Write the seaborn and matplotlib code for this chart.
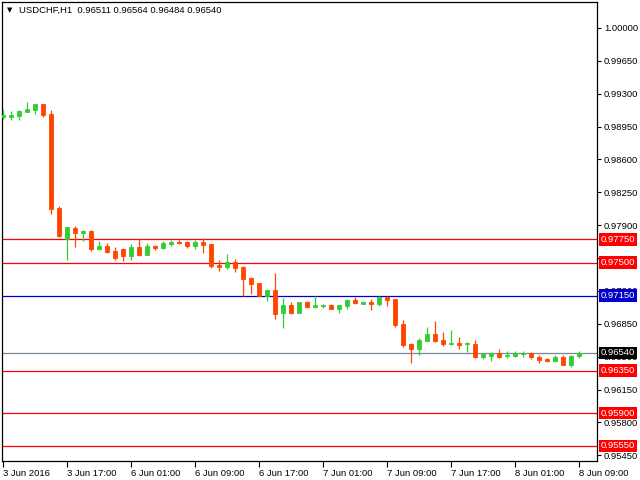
import matplotlib
matplotlib.use("Agg")
import matplotlib.pyplot as plt
import matplotlib.transforms as mtransforms
import seaborn as sns
import numpy as np
import pandas as pd

# ---- data (USDCHF H1, 3 Jun 2016 09:00 -> 8 Jun 2016 09:00) ----
open_ = [0.99054, 0.99054, 0.99065, 0.99108, 0.99129, 0.99190, 0.99083, 0.98083,
         0.97753, 0.97870, 0.97820, 0.97838, 0.97650, 0.97679, 0.97626, 0.97647,
         0.97576, 0.97668, 0.97586, 0.97679, 0.97661, 0.97703, 0.97721, 0.97721,
         0.97682, 0.97721, 0.97700, 0.97477, 0.97458, 0.97508, 0.97455, 0.97338,
         0.97285, 0.97147, 0.97211, 0.96966, 0.97051, 0.96966, 0.97083, 0.97033,
         0.97040, 0.97051, 0.97012, 0.97043, 0.97104, 0.97065, 0.97083, 0.97062,
         0.97136, 0.97115, 0.96849, 0.96636, 0.96583, 0.96668, 0.96742, 0.96679,
         0.96636, 0.96647, 0.96636, 0.96636, 0.96498, 0.96508, 0.96540, 0.96508,
         0.96508, 0.96530, 0.96540, 0.96498, 0.96476, 0.96455, 0.96498, 0.96413,
         0.96511]
high = [0.99136, 0.99115, 0.99126, 0.99211, 0.99190, 0.99190, 0.99126, 0.98104,
        0.97881, 0.97892, 0.97849, 0.97845, 0.97732, 0.97707, 0.97668, 0.97657,
        0.97700, 0.97753, 0.97711, 0.97689, 0.97732, 0.97743, 0.97743, 0.97732,
        0.97743, 0.97764, 0.97700, 0.97530, 0.97594, 0.97540, 0.97466, 0.97349,
        0.97285, 0.97211, 0.97391, 0.97125, 0.97083, 0.97083, 0.97094, 0.97147,
        0.97062, 0.97062, 0.97051, 0.97115, 0.97136, 0.97094, 0.97115, 0.97147,
        0.97147, 0.97115, 0.96891, 0.96647, 0.96700, 0.96817, 0.96881, 0.96764,
        0.96785, 0.96710, 0.96657, 0.96679, 0.96530, 0.96551, 0.96583, 0.96562,
        0.96562, 0.96562, 0.96551, 0.96519, 0.96487, 0.96519, 0.96519, 0.96519,
        0.96564]
low = [0.99030, 0.99019, 0.99019, 0.99108, 0.99083, 0.99054, 0.98019, 0.97774,
       0.97530, 0.97671, 0.97735, 0.97629, 0.97639, 0.97604, 0.97533, 0.97522,
       0.97533, 0.97576, 0.97583, 0.97639, 0.97650, 0.97682, 0.97703, 0.97661,
       0.97650, 0.97599, 0.97448, 0.97416, 0.97437, 0.97405, 0.97147, 0.97171,
       0.97145, 0.97097, 0.96905, 0.96809, 0.96955, 0.96966, 0.97019, 0.97019,
       0.97019, 0.97012, 0.96966, 0.97012, 0.97062, 0.97062, 0.96998, 0.97040,
       0.97040, 0.96817, 0.96607, 0.96434, 0.96519, 0.96668, 0.96657, 0.96615,
       0.96625, 0.96583, 0.96551, 0.96487, 0.96476, 0.96455, 0.96487, 0.96487,
       0.96498, 0.96498, 0.96476, 0.96434, 0.96444, 0.96444, 0.96413, 0.96391,
       0.96484]
close = [0.99076, 0.99073, 0.99115, 0.99136, 0.99190, 0.99076, 0.98076, 0.97788,
         0.97881, 0.97820, 0.97838, 0.97647, 0.97679, 0.97615, 0.97554, 0.97576,
         0.97668, 0.97586, 0.97679, 0.97661, 0.97711, 0.97721, 0.97714, 0.97682,
         0.97721, 0.97693, 0.97469, 0.97458, 0.97508, 0.97448, 0.97331, 0.97278,
         0.97147, 0.97211, 0.96958, 0.97051, 0.96966, 0.97083, 0.97030, 0.97051,
         0.97051, 0.97012, 0.97051, 0.97104, 0.97072, 0.97083, 0.97062, 0.97136,
         0.97109, 0.96838, 0.96625, 0.96583, 0.96679, 0.96742, 0.96668, 0.96636,
         0.96647, 0.96625, 0.96647, 0.96498, 0.96530, 0.96540, 0.96498, 0.96519,
         0.96540, 0.96540, 0.96498, 0.96466, 0.96455, 0.96498, 0.96413, 0.96508,
         0.96540]

x_tick_bars = [0, 8, 16, 24, 32, 40, 48, 56, 64, 72]
x_tick_labels = ["3 Jun 2016", "3 Jun 17:00", "6 Jun 01:00", "6 Jun 09:00",
                 "6 Jun 17:00", "7 Jun 01:00", "7 Jun 09:00", "7 Jun 17:00",
                 "8 Jun 01:00", "8 Jun 09:00"]
price_ticks = [1.00000, 0.99650, 0.99300, 0.98950, 0.98600, 0.98250, 0.97900,
               0.97550, 0.97200, 0.96850, 0.96500, 0.96150, 0.95800, 0.95450]
red_levels = [0.97750, 0.97500, 0.96350, 0.95900, 0.95550]
blue_levels = [0.97150]
bid_level = 0.96540
title_text = "USDCHF,H1  0.96511 0.96564 0.96484 0.96540"

# ---- style ----
sns.set_theme(style="white")
plt.rcParams['font.family'] = ['Liberation Sans', 'DejaVu Sans']

UP = '#32CD32'
DOWN = '#FF4500'
RED = '#FF0000'
BLUE = '#0000CD'
GRAY = '#778899'
FS = 6.8

fig = plt.figure(figsize=(6.4, 4.8), dpi=100)
fig.patch.set_facecolor('white')
ax = fig.add_axes([2 / 640, 19 / 480, 595 / 640, 459 / 480])
ax.set_facecolor('white')

df = pd.DataFrame({'o': open_, 'h': high, 'l': low, 'c': close})
df['bar'] = np.arange(len(df))
df['dir'] = np.where(df['c'] >= df['o'], 'up', 'down')
df['bottom'] = np.minimum(df['o'], df['c'])
df['height'] = (df['c'] - df['o']).abs()
colors = np.where(df['dir'] == 'up', UP, DOWN)

# level lines
for lv in red_levels:
    ax.axhline(lv, color=RED, lw=0.9, zorder=1)
for lv in blue_levels:
    ax.axhline(lv, color=BLUE, lw=0.9, zorder=1)
ax.axhline(bid_level, color=GRAY, lw=0.9, zorder=1)

# candles
ax.vlines(df['bar'], df['l'], df['h'], colors=colors, lw=0.9, zorder=3)
ax.bar(df['bar'], df['height'], bottom=df['bottom'], width=0.58,
       color=colors, edgecolor=colors, linewidth=0.6, zorder=4)

ax.set_xlim(-0.125, 74.25)
ax.set_ylim(0.95390, 1.00276)
ax.grid(False)

# axes
ax.yaxis.tick_right()
ax.set_yticks(price_ticks)
ax.set_yticklabels([f"{t:.5f}" for t in price_ticks])
ax.tick_params(axis='y', direction='out', length=3, width=0.8, pad=2,
               labelsize=FS, colors='black', right=True, left=False)
ax.set_xticks(x_tick_bars)
ax.set_xticklabels(x_tick_labels, ha='left')
ax.tick_params(axis='x', direction='out', length=4, width=0.8, pad=2,
               labelsize=FS, colors='black', bottom=True)
for sp in ax.spines.values():
    sp.set_color('black')
    sp.set_linewidth(0.9)

# price tags
trans = mtransforms.blended_transform_factory(ax.transAxes, ax.transData)
tags = [(lv, RED) for lv in red_levels] + [(lv, BLUE) for lv in blue_levels] + [(bid_level, 'black')]
for lv, col in tags:
    ax.text(1.0063, lv, f"{lv:.5f}", transform=trans, ha='left', va='center',
            fontsize=FS, color='white', clip_on=False, zorder=10,
            bbox=dict(boxstyle='square,pad=0.2', fc=col, ec='none'))

# header
fig.text(7 / 640, 1 - 10 / 480, "\u25BC", fontsize=5, family='DejaVu Sans',
         va='center', ha='left', color='black')
fig.text(19 / 640, 1 - 10 / 480, title_text, fontsize=FS, va='center',
         ha='left', color='black')

fig.savefig('out.png', dpi=100, facecolor='white')
